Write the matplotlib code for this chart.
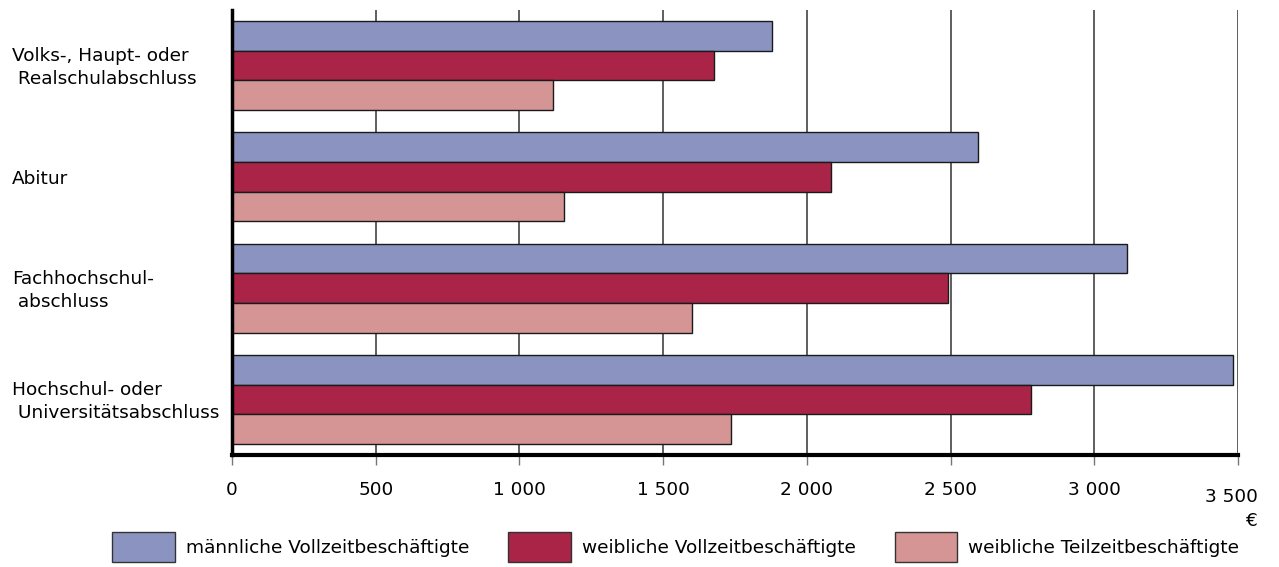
import matplotlib
matplotlib.use("Agg")
import matplotlib.pyplot as plt
import matplotlib.transforms as mtransforms
from matplotlib.patches import Patch
import numpy as np

plt.rcParams['font.family'] = ['DejaVu Sans']

categories = ["Volks-, Haupt- oder\n Realschulabschluss", "Abitur",
              "Fachhochschul-\n abschluss", "Hochschul- oder\n Universitätsabschluss"]
series_names = ["männliche Vollzeitbeschäftigte", "weibliche Vollzeitbeschäftigte",
                "weibliche Teilzeitbeschäftigte"]
maennlich_voll = [1880, 2597, 3114, 3482]
weiblich_voll = [1678, 2085, 2491, 2781]
weiblich_teil = [1118, 1154, 1602, 1737]
xticks = [0, 500, 1000, 1500, 2000, 2500, 3000, 3500]
xticklabels = ["0", "500", "1 000", "1 500", "2 000", "2 500", "3 000", ""]
colors = ["#8b93c1", "#a92447", "#d49594"]

FS = 13.3
W, H = 1279, 567
fig = plt.figure(figsize=(W / 100, H / 100), dpi=100)
ax = fig.add_axes([232 / W, 1 - 455 / H, (1238 - 232) / W, (455 - 10) / H])

n = len(categories)
centers = np.arange(n)
bh = 0.8 / 3
values = [maennlich_voll, weiblich_voll, weiblich_teil]
for k, (vals, col) in enumerate(zip(values, colors)):
    ax.barh(centers + (k - 1) * bh, vals, height=bh, color=col,
            edgecolor="#1a1a1a", linewidth=1.0, zorder=3)

ax.set_ylim(n - 0.5, -0.5)
ax.set_xlim(0, 3500)
ax.set_xticks(xticks)
ax.set_xticklabels(xticklabels, fontsize=FS)
ax.tick_params(axis='x', length=7, width=1, color="#777777", pad=12)
ax.set_yticks([])
for x in xticks[1:]:
    ax.axvline(x, color="#333333", linewidth=1.1, zorder=1)

for s in ["top", "right"]:
    ax.spines[s].set_visible(False)
ax.spines["left"].set_linewidth(2.5)
ax.spines["bottom"].set_linewidth(3)
ax.spines["left"].set_zorder(4)
ax.spines["bottom"].set_zorder(4)

trans = mtransforms.blended_transform_factory(fig.transFigure, ax.transData)
trans = trans + mtransforms.ScaledTranslation(0, -2 / 100, fig.dpi_scale_trans)
for i, c in enumerate(categories):
    fig.text(12 / W, i, c, transform=trans, ha='left', va='center',
             fontsize=FS, linespacing=1.35)

fig.text(1258 / W, 1 - 497 / H, "3 500", ha='right', va='center', fontsize=FS)
fig.text(1258 / W, 1 - 521 / H, "€", ha='right', va='center', fontsize=FS)

handles = [Patch(facecolor=c, edgecolor="#333333", linewidth=1) for c in colors]
leg = fig.legend(handles, series_names, loc='center left',
                 bbox_to_anchor=(112 / W, 1 - 547 / H), ncol=3, frameon=False,
                 fontsize=FS, handlelength=3.4, handleheight=2.1,
                 handletextpad=0.6, columnspacing=2.1, borderaxespad=0,
                 borderpad=0)

fig.savefig("out.png", dpi=100)
